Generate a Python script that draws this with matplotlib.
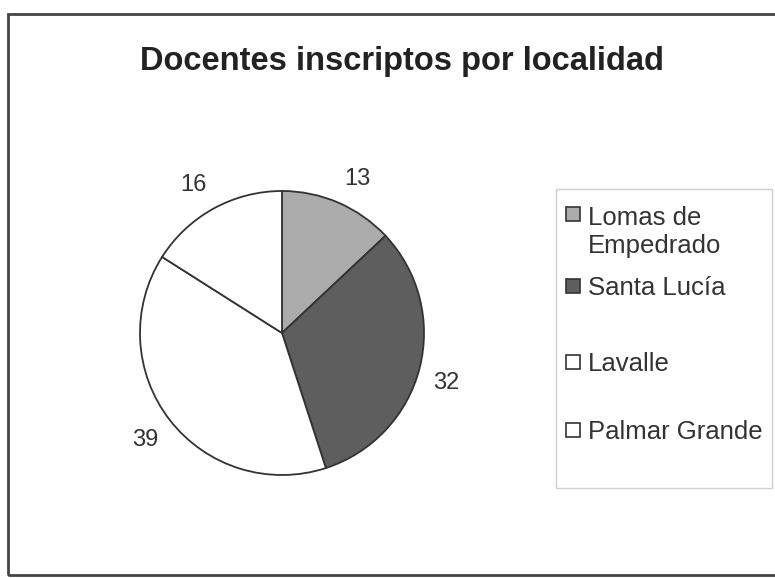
import numpy as np
import matplotlib.pyplot as plt
from matplotlib.patches import Rectangle

plt.rcParams['font.family'] = ['Liberation Sans', 'DejaVu Sans']

# datos
localidades = ['Lomas de\nEmpedrado', 'Santa Lucía', 'Lavalle', 'Palmar Grande']
docentes = [13, 32, 39, 16]
colores = ['#ababab', '#5e5e5e', '#ffffff', '#ffffff']

W, H = 775, 578


def fx(px):
    return px / W


def fy(py):
    return 1 - py / H


fig = plt.figure(figsize=(W / 100, H / 100), dpi=100)

# marco exterior
fig.patches.append(Rectangle((fx(8), fy(575)), fx(800) - fx(8), fy(14) - fy(575),
                             transform=fig.transFigure, fill=False,
                             edgecolor='#444444', linewidth=2))

# torta
ax = fig.add_axes([fx(140), fy(475), fx(284), 284 / H])
wedges, texts = ax.pie(docentes, colors=colores, startangle=90, counterclock=False,
                       labels=[str(d) for d in docentes], labeldistance=1.1,
                       wedgeprops=dict(edgecolor='#333333', linewidth=1.3),
                       textprops=dict(fontsize=17, color='#333333'))
# etiquetas estilo Excel: la esquina más cercana apoyada en el círculo
for w, t in zip(wedges, texts):
    ang = np.deg2rad((w.theta1 + w.theta2) / 2)
    t.set_ha('left' if np.cos(ang) > 0 else 'right')
    t.set_va('bottom' if np.sin(ang) > 0 else 'top')
ax.set_xlim(-1, 1)
ax.set_ylim(-1, 1)
ax.set_aspect('equal')

fig.text(fx(402), fy(70), 'Docentes inscriptos por localidad', ha='center', va='baseline',
         fontsize=23.5, fontweight='bold', color='#222222')

# leyenda
fig.patches.append(Rectangle((fx(556), fy(488)), fx(772) - fx(556), fy(189) - fy(488),
                             transform=fig.transFigure, fill=False,
                             edgecolor='#d0d0d0', linewidth=1))
ys = [214, 286, 362, 430]
for lab, col, y in zip(localidades, colores, ys):
    fig.patches.append(Rectangle((fx(566), fy(y + 7)), fx(14), 14 / H,
                                 transform=fig.transFigure, facecolor=col,
                                 edgecolor='#333333', linewidth=1.2))
    # la línea base de va='baseline' es la de la última línea
    extra = 30 * lab.count('\n')
    fig.text(fx(588), fy(y + 9 + extra), lab, ha='left', va='baseline', fontsize=18.5,
             color='#333333', linespacing=1.2)

fig.savefig('out.png', dpi=100)
